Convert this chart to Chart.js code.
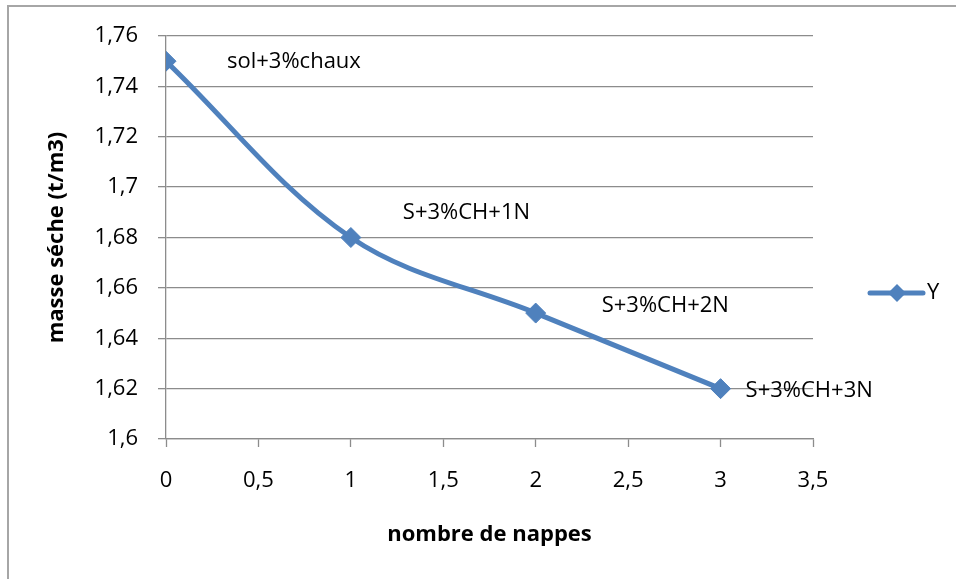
<!DOCTYPE html>
<html lang="fr">
<head>
  <meta charset="UTF-8" />
  <title>masse sèche - nombre de nappes</title>
  <script src="https://cdn.jsdelivr.net/npm/chart.js"></script>
  <style>
    html, body {
      margin: 0;
      padding: 0;
      background: #ffffff;
    }
    #wrap {
      position: relative;
      width: 956px;
      height: 579px;
      overflow: hidden;
    }
    #frame {
      position: absolute;
      left: 7px;
      top: 5px;
      width: 960px;
      height: 600px;
      border-left: 2px solid #a6a6a6;
      border-top: 2px solid #a6a6a6;
      pointer-events: none;
    }
  </style>
</head>
<body>
  <div id="wrap">
    <canvas id="chart" width="956" height="579"></canvas>
    <div id="frame"></div>
  </div>

  <script>
    // données
    const nappes = [0, 1, 2, 3];
    const masseSeche = [1.75, 1.68, 1.65, 1.62];
    const etiquettes = ['sol+3%chaux', 'S+3%CH+1N', 'S+3%CH+2N', 'S+3%CH+3N'];
    const serieNom = 'Y';

    const bleu = '#4f81bd';
    const gris = '#8c8c8c';
    const police = '"Open Sans", "Liberation Sans", sans-serif';

    // décalage des étiquettes par rapport au point (px)
    const decalages = [[61, 1], [52, -25], [66, -7], [25, 2]];

    const virgule = v => String(Number(v.toFixed(2))).replace('.', ',');

    const etiquettesPlugin = {
      id: 'etiquettes',
      afterDatasetsDraw(chart) {
        const ctx = chart.ctx;
        const pts = chart.getDatasetMeta(0).data;
        ctx.save();
        ctx.font = '22px ' + police;
        ctx.fillStyle = '#000';
        ctx.textAlign = 'left';
        ctx.textBaseline = 'middle';
        pts.forEach((p, i) => {
          ctx.fillText(etiquettes[i], p.x + decalages[i][0], p.y + decalages[i][1]);
        });
        ctx.restore();
      }
    };

    const legendePlugin = {
      id: 'legende',
      afterDraw(chart) {
        const ctx = chart.ctx;
        const y = 293;
        ctx.save();
        ctx.strokeStyle = bleu;
        ctx.lineWidth = 5;
        ctx.lineCap = 'round';
        ctx.beginPath();
        ctx.moveTo(870, y);
        ctx.lineTo(923, y);
        ctx.stroke();
        ctx.fillStyle = bleu;
        ctx.beginPath();
        ctx.moveTo(897, y - 9);
        ctx.lineTo(906, y);
        ctx.lineTo(897, y + 9);
        ctx.lineTo(888, y);
        ctx.closePath();
        ctx.fill();
        ctx.fillStyle = '#000';
        ctx.font = '22px ' + police;
        ctx.textBaseline = 'middle';
        ctx.fillText(serieNom, 927, y);
        ctx.restore();
      }
    };

    const chart = new Chart(document.getElementById('chart'), {
      type: 'scatter',
      data: {
        datasets: [{
          label: serieNom,
          data: nappes.map((x, i) => ({ x: x, y: masseSeche[i] })),
          showLine: true,
          borderColor: bleu,
          backgroundColor: bleu,
          borderWidth: 5,
          tension: 0.35,
          pointStyle: 'rectRot',
          pointRadius: 10,
          pointBorderWidth: 1,
          pointBackgroundColor: bleu,
          pointBorderColor: bleu
        }]
      },
      options: {
        responsive: false,
        animation: false,
        layout: { padding: { left: 0, top: 36, right: 143, bottom: 0 } },
        plugins: {
          legend: { display: false },
          tooltip: { enabled: false }
        },
        scales: {
          x: {
            type: 'linear',
            min: 0,
            max: 3.5,
            afterFit: s => { s.height = 140; },
            ticks: {
              stepSize: 0.5,
              padding: 21,
              color: '#000',
              font: { family: police, size: 22 },
              callback: v => virgule(v)
            },
            grid: {
              drawOnChartArea: false,
              drawTicks: true,
              tickLength: 8,
              tickColor: gris,
              tickWidth: 1.3
            },
            border: { color: gris, width: 1.3 },
            title: {
              display: true,
              text: 'nombre de nappes',
              color: '#000',
              font: { family: police, size: 22, weight: 'bold' },
              padding: { top: 0, bottom: 31 }
            }
          },
          y: {
            min: 1.6,
            max: 1.76,
            afterFit: s => { s.width = 166; },
            ticks: {
              stepSize: 0.02,
              padding: 20,
              color: '#000',
              font: { family: police, size: 22 },
              callback: v => virgule(v)
            },
            grid: {
              color: gris,
              lineWidth: 1.3,
              tickLength: 8,
              tickColor: gris
            },
            border: { color: gris, width: 1.3 },
            title: {
              display: true,
              text: 'masse séche (t/m3)',
              color: '#000',
              font: { family: police, size: 22, weight: 'bold' },
              padding: { top: 44, bottom: 0 }
            }
          }
        }
      },
      plugins: [etiquettesPlugin, legendePlugin]
    });
  </script>
</body>
</html>
